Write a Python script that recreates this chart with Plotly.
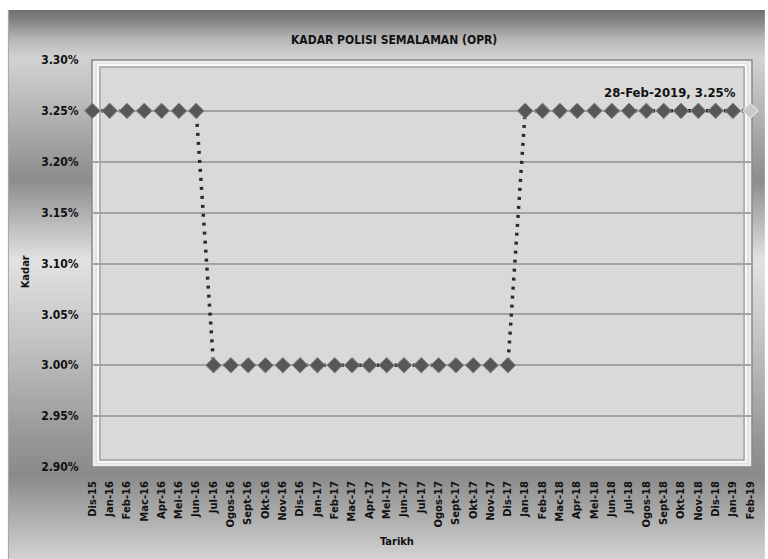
import base64
import plotly.graph_objects as go

# ---- data ----
months = ["Dis-15", "Jan-16", "Feb-16", "Mac-16", "Apr-16", "Mei-16", "Jun-16", "Jul-16",
          "Ogos-16", "Sept-16", "Okt-16", "Nov-16", "Dis-16", "Jan-17", "Feb-17", "Mac-17",
          "Apr-17", "Mei-17", "Jun-17", "Jul-17", "Ogos-17", "Sept-17", "Okt-17", "Nov-17",
          "Dis-17", "Jan-18", "Feb-18", "Mac-18", "Apr-18", "Mei-18", "Jun-18", "Jul-18",
          "Ogos-18", "Sept-18", "Okt-18", "Nov-18", "Dis-18", "Jan-19", "Feb-19"]
opr = [3.25, 3.25, 3.25, 3.25, 3.25, 3.25, 3.25,
       3.00, 3.00, 3.00, 3.00, 3.00, 3.00, 3.00, 3.00, 3.00, 3.00, 3.00, 3.00, 3.00,
       3.00, 3.00, 3.00, 3.00, 3.00,
       3.25, 3.25, 3.25, 3.25, 3.25, 3.25, 3.25, 3.25, 3.25, 3.25, 3.25, 3.25, 3.25, 3.25]
y_ticks = [2.90, 2.95, 3.00, 3.05, 3.10, 3.15, 3.20, 3.25, 3.30]
y_tick_labels = ["2.90%", "2.95%", "3.00%", "3.05%", "3.10%", "3.15%", "3.20%", "3.25%", "3.30%"]
title_text = "KADAR POLISI SEMALAMAN (OPR)"
label_text = "28-Feb-2019, 3.25%"

# ---- layout geometry (pixels) ----
W, H = 768, 559
L, R, T, B = 92, 755, 60, 467
PW, PH = R - L, B - T


def px(x):
    return (x - L) / PW


def py(y):
    return (B - y) / PH


NARROW = "DejaVu Sans Condensed, Liberation Sans Narrow, Arial Narrow, DejaVu Sans, sans-serif"

# background gradient of chart area, as an SVG image (pixel y, gray level)
stops = [(10, 110), (22, 135), (40, 185), (58, 210), (110, 182), (180, 140), (260, 226),
         (340, 195), (440, 150), (475, 138), (520, 176), (559, 210)]
top, bottom = 10, H
stop_xml = "".join(
    '<stop offset="%.4f" stop-color="#%02x%02x%02x"/>' % ((yv - top) / (bottom - top), g, g, g)
    for yv, g in stops)
svg = ('<svg xmlns="http://www.w3.org/2000/svg" width="%d" height="%d" preserveAspectRatio="none">'
       '<defs><linearGradient id="g" x1="0" y1="0" x2="0" y2="1">%s</linearGradient></defs>'
       '<rect x="0" y="0" width="100%%" height="100%%" fill="url(#g)"/></svg>'
       % (W - 8, bottom - top, stop_xml))
bg_src = "data:image/svg+xml;base64," + base64.b64encode(svg.encode()).decode()

images = [dict(source=bg_src, xref="paper", yref="paper", x=px(8), y=py(top),
               sizex=(W - 8) / PW, sizey=(bottom - top) / PH, sizing="stretch",
               xanchor="left", yanchor="top", layer="below", opacity=1)]

shapes = []
shapes.append(dict(type="line", xref="paper", yref="paper", layer="below",
                   x0=px(8), x1=px(8), y0=py(10), y1=py(H + 2), line=dict(color="#a0a0a0", width=1)))
# plot area frame (bevel)
shapes.append(dict(type="rect", xref="paper", yref="paper", layer="below",
                   x0=px(L), x1=px(R), y0=py(B), y1=py(T),
                   fillcolor="#e2e2e2", line=dict(color="#8a8a8a", width=1.5)))
shapes.append(dict(type="rect", xref="paper", yref="paper", layer="below",
                   x0=px(L + 2), x1=px(R - 2), y0=py(B - 2), y1=py(T + 2),
                   fillcolor="rgba(0,0,0,0)", line=dict(color="#f4f4f4", width=1.5)))
shapes.append(dict(type="rect", xref="paper", yref="paper", layer="below",
                   x0=px(L + 8), x1=px(R - 8), y0=py(B - 7), y1=py(T + 7),
                   fillcolor="#d9d9d9", line=dict(color="#a5a5a5", width=1.5)))
shapes.append(dict(type="rect", xref="paper", yref="paper", layer="below",
                   x0=px(L + 6), x1=px(R - 6), y0=py(B - 5), y1=py(T + 5),
                   fillcolor="rgba(0,0,0,0)", line=dict(color="#ffffff", width=1.5)))

n = len(months)
marker_colors = ["#575757"] * (n - 1) + ["#c9c9c9"]
marker_lines = ["#8a8a8a"] * (n - 1) + ["#f5f5f5"]

fig = go.Figure()
fig.add_trace(go.Scatter(
    x=months, y=opr, mode="lines+markers",
    line=dict(color="#2a2a2a", width=3.5, dash="3px,6px"),
    marker=dict(symbol="diamond", size=12, color=marker_colors,
                line=dict(color=marker_lines, width=1)),
    cliponaxis=False, showlegend=False,
    hovertemplate="%{x}: %{y:.2f}%<extra></extra>",
))

annotations = [
    dict(text=f"<b>{title_text}</b>", xref="paper", yref="paper", x=px(395), y=py(40),
         showarrow=False, font=dict(family=NARROW, size=12, color="#111111"),
         xanchor="center", yanchor="middle"),
    dict(text="<b>Kadar</b>", xref="paper", yref="paper", x=px(25), y=py(272),
         showarrow=False, textangle=-90, font=dict(family=NARROW, size=11, color="#111111"),
         xanchor="center", yanchor="middle"),
    dict(text="<b>Tarikh</b>", xref="paper", yref="paper", x=px(398), y=py(541),
         showarrow=False, font=dict(family=NARROW, size=11, color="#111111"),
         xanchor="center", yanchor="middle"),
    dict(text=f"<b>{label_text}</b>", xref="paper", yref="paper", x=px(741), y=py(92),
         showarrow=False, font=dict(family=NARROW, size=13, color="#111111"),
         xanchor="right", yanchor="middle"),
]

fig.update_layout(
    width=W, height=H,
    margin=dict(l=L, r=W - R, t=T, b=H - B),
    paper_bgcolor="#ffffff", plot_bgcolor="rgba(0,0,0,0)",
    shapes=shapes, annotations=annotations, images=images,
    xaxis=dict(type="category", range=[-0.02, 38.1], showgrid=False, zeroline=False,
               showline=False, tickangle=-90, ticks="outside", ticklen=9,
               tickcolor="rgba(0,0,0,0)",
               tickfont=dict(family="DejaVu Sans", size=10, color="#111111", weight="bold")),
    yaxis=dict(range=[2.90, 3.30], tickmode="array", tickvals=y_ticks, ticktext=y_tick_labels,
               showgrid=True, gridcolor="#a3a3a3", gridwidth=1.5, zeroline=False,
               showline=False, ticks="outside", ticklen=10, tickcolor="rgba(0,0,0,0)",
               tickfont=dict(family=NARROW, size=12, color="#111111", weight="bold")),
)

fig.write_html("out.html")
